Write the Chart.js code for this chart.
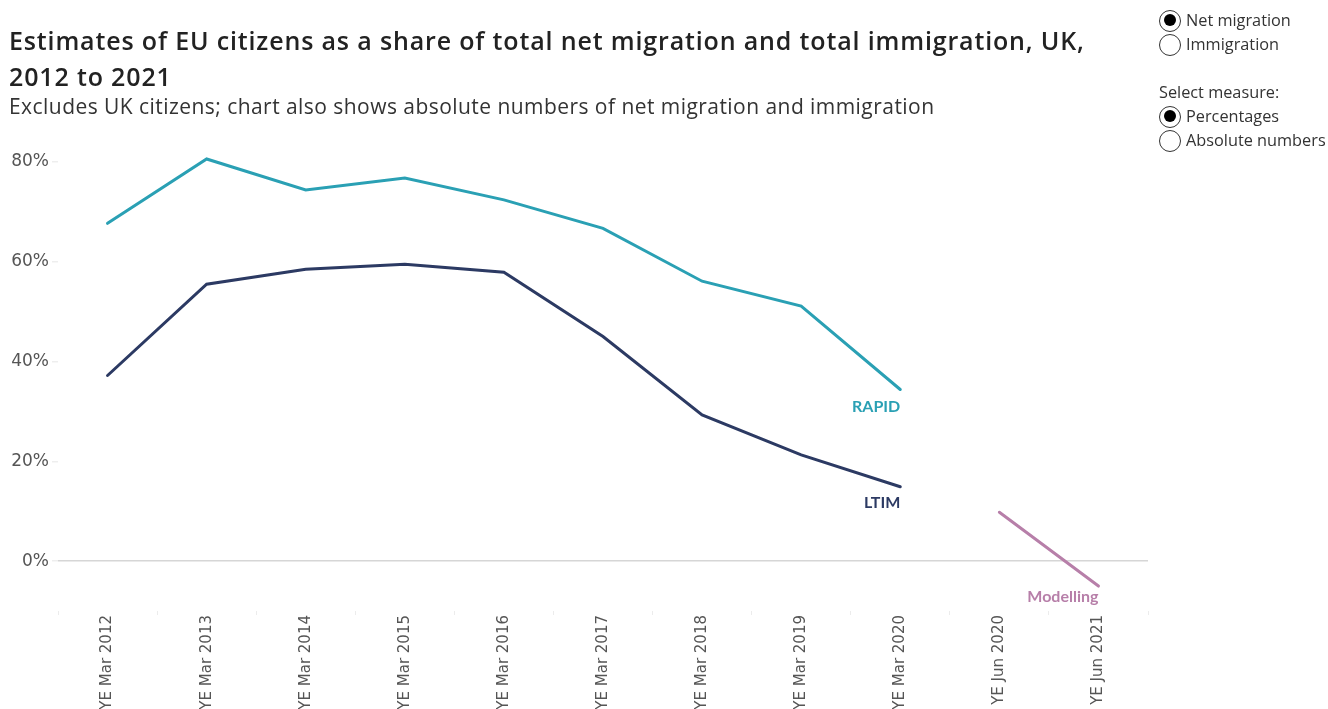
<!DOCTYPE html>
<html>
<head>
<meta charset="utf-8">
<script src="https://cdn.jsdelivr.net/npm/chart.js@4"></script>
<style>
  body { margin: 0; background: #fff; font-family: "Open Sans", sans-serif; }
  #wrap { position: relative; width: 1328px; height: 709px; overflow: hidden; }
  #chart { position: absolute; left: 0; top: 0; }
  .title { position: absolute; left: 9px; top: 22px; font-size: 25px; letter-spacing: 0.85px; font-weight: 600; color: #222; line-height: 36px; }
  .sub { position: absolute; left: 9px; top: 92px; font-size: 21px; letter-spacing: 0.45px; color: #333; }
  .ctl { position: absolute; left: 1159px; font-size: 16.3px; color: #333; }
  .ctl div { height: 24px; line-height: 22px; white-space: nowrap; }
  .dot { display: inline-block; width: 22px; height: 22px; border: 1.5px solid #333; border-radius: 50%; background: #fff;
         box-sizing: border-box; vertical-align: middle; margin-right: 5px; position: relative; top: -1px; }
  .dot.on::after { content: ""; position: absolute; left: 3.5px; top: 3.5px; width: 12px; height: 12px; border-radius: 50%; background: #000; }
</style>
</head>
<body>
<div id="wrap">
  <canvas id="chart" width="1328" height="709"></canvas>
  <div class="title">Estimates of EU citizens as a share of total net migration and total immigration, UK,<br>2012 to 2021</div>
  <div class="sub">Excludes UK citizens; chart also shows absolute numbers of net migration and immigration</div>
  <div class="ctl" style="top:9px">
    <div><span class="dot on"></span>Net migration</div>
    <div><span class="dot"></span>Immigration</div>
  </div>
  <div class="ctl" style="top:81px">
    <div>Select measure:</div>
    <div><span class="dot on"></span>Percentages</div>
    <div><span class="dot"></span>Absolute numbers</div>
  </div>
</div>
<script>
var periods = ['YE Mar 2012', 'YE Mar 2013', 'YE Mar 2014', 'YE Mar 2015', 'YE Mar 2016',
               'YE Mar 2017', 'YE Mar 2018', 'YE Mar 2019', 'YE Mar 2020', 'YE Jun 2020', 'YE Jun 2021'];
var rapid = [67.7, 80.6, 74.4, 76.8, 72.4, 66.7, 56.1, 51.1, 34.4, null, null];
var ltim = [37.2, 55.5, 58.5, 59.5, 57.9, 45.0, 29.3, 21.3, 14.9, null, null];
var modelling = [null, null, null, null, null, null, null, null, null, 9.8, -5.0];
var yTicks = [0, 20, 40, 60, 80];

// draws the series name under the last point of each line
var endLabels = {
    id: 'endLabels',
    afterDatasetsDraw: function(chart) {
        var ctx = chart.ctx;
        chart.data.datasets.forEach(function(ds, i) {
            var pts = chart.getDatasetMeta(i).data;
            var last = null;
            ds.data.forEach(function(v, j) { if (v !== null) last = pts[j]; });
            if (!last) return;
            ctx.save();
            ctx.font = 'bold 16px Lato, sans-serif';
            ctx.fillStyle = ds.borderColor;
            ctx.textAlign = 'right';
            ctx.textBaseline = 'middle';
            ctx.fillText(ds.label, last.x, last.y + ds.labelGap);
            ctx.restore();
        });
    }
};

new Chart(document.getElementById('chart'), {
    type: 'line',
    data: {
        labels: periods,
        datasets: [
            { label: 'RAPID', data: rapid, borderColor: '#2aa0b4', labelGap: 17 },
            { label: 'LTIM', data: ltim, borderColor: '#2c3a63', labelGap: 16 },
            { label: 'Modelling', data: modelling, borderColor: '#b77fa9', labelGap: 11 }
        ]
    },
    options: {
        responsive: false,
        animation: false,
        layout: { padding: { top: 147, right: 180, bottom: 0, left: 0 } },
        elements: {
            line: { borderWidth: 3, tension: 0, borderCapStyle: 'round' },
            point: { radius: 0, hoverRadius: 0 }
        },
        plugins: { legend: { display: false }, tooltip: { enabled: false } },
        scales: {
            x: {
                offset: true,
                grid: { display: true, drawOnChartArea: false, color: '#ececec', tickLength: 4, offset: true },
                border: { display: false },
                ticks: { minRotation: 90, maxRotation: 90, color: '#555', font: { family: "'DejaVu Sans'", size: 15 }, padding: 0 },
                afterFit: function(s) { s.height = 98; }
            },
            y: {
                min: -10,
                max: 83,
                afterBuildTicks: function(s) { s.ticks = yTicks.map(function(v) { return { value: v }; }); },
                grid: {
                    color: function(c) { return c.tick && c.tick.value === 0 ? '#d6d6d6' : 'rgba(0,0,0,0)'; },
                    tickColor: '#eeeeee',
                    tickLength: 6,
                    lineWidth: 1.5
                },
                border: { display: false },
                ticks: { color: '#555', font: { family: "'DejaVu Sans'", size: 17 }, padding: 3,
                         callback: function(v) { return v + '%'; } },
                afterFit: function(s) { s.width = 58; }
            }
        }
    },
    plugins: [endLabels]
});
</script>
</body>
</html>
